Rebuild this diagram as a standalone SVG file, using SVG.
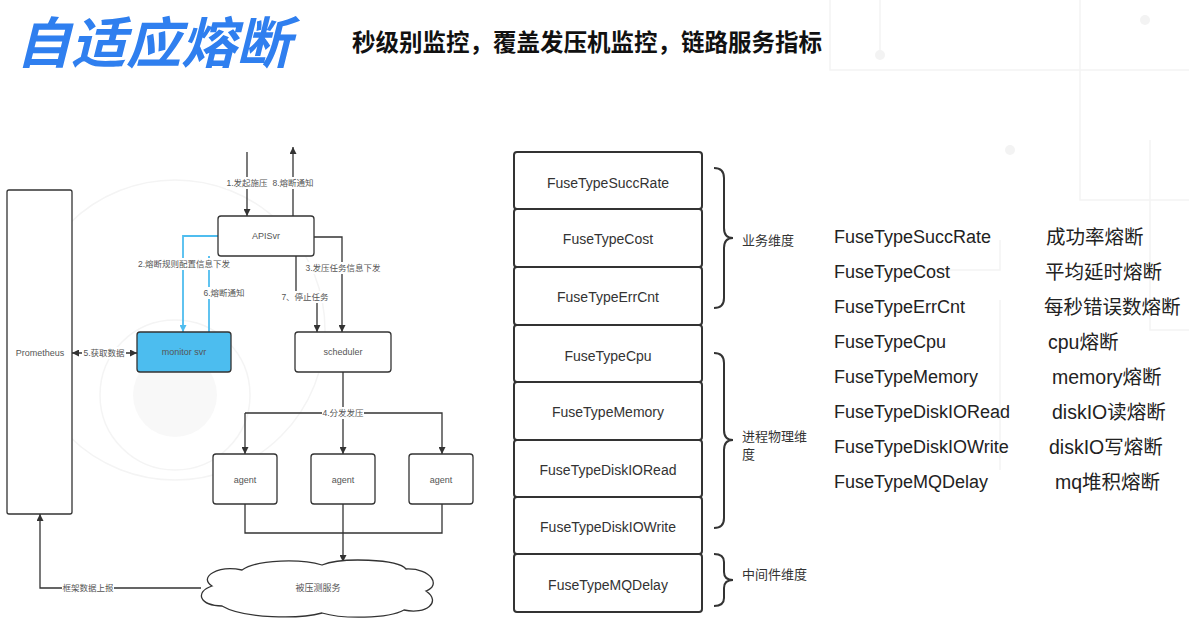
<svg xmlns="http://www.w3.org/2000/svg" width="1189" height="618" viewBox="0 0 1189 618">
<defs>
<marker id="ah" viewBox="0 0 10 10" refX="10" refY="5" markerWidth="7" markerHeight="7" markerUnits="userSpaceOnUse" orient="auto-start-reverse"><path d="M0,0 L10,5 L0,10 z" fill="#333"/></marker>
<marker id="ahb" viewBox="0 0 10 10" refX="10" refY="5" markerWidth="7" markerHeight="7" markerUnits="userSpaceOnUse" orient="auto-start-reverse"><path d="M0,0 L10,5 L0,10 z" fill="#4fbdef"/></marker>
<style>
.bg{fill:none;stroke:#f4f4f4;stroke-width:1.5}
.bgd{fill:#f3f3f3}
.nd{fill:#fff;stroke:#333;stroke-width:1.3}
.nt{font-family:"Liberation Sans","Noto Sans CJK SC",sans-serif;font-size:9px;fill:#555;text-anchor:middle;dominant-baseline:central}
.lb{font-family:"Liberation Sans","Noto Sans CJK SC",sans-serif;font-size:8.5px;fill:#555;text-anchor:middle;dominant-baseline:central}
.ln{fill:none;stroke:#333;stroke-width:1.3}
.lnb{fill:none;stroke:#4fbdef;stroke-width:1.8}
.lbg{fill:#fff}
.st{fill:#fff;stroke:#333;stroke-width:2}
.stt{font-family:"Liberation Sans","Noto Sans CJK SC",sans-serif;font-size:14px;fill:#333;text-anchor:middle;dominant-baseline:central}
.br{fill:none;stroke:#333;stroke-width:2}
.brt{font-family:"Noto Sans CJK SC",sans-serif;font-size:13px;fill:#333;dominant-baseline:central}
.rl{font-family:"Liberation Sans","Noto Sans CJK SC",sans-serif;font-size:18px;fill:#222;dominant-baseline:central}
.rr{font-family:"Liberation Sans","Noto Sans CJK SC",sans-serif;font-size:19.5px;fill:#222;dominant-baseline:central}
</style>
</defs>
<rect width="1189" height="618" fill="#fff"/>
<g id="background">
<circle cx="175" cy="395" r="42" class="bgd" opacity="0.6"/>
<circle cx="175" cy="395" r="75" class="bg"/>
<circle cx="175" cy="330" r="150" class="bg"/>
<path class="bg" d="M830,0 V70 H1189 M880,0 V50 M1080,0 V200 H1189 M870,270 H1000 V240 M1000,300 V470 M1150,140 V330 H1189"/>
<circle cx="880" cy="55" r="5" class="bgd"/>
<circle cx="1010" cy="150" r="5" class="bgd"/>
<circle cx="1145" cy="20" r="5" class="bgd"/>
</g>
<g id="title">
<text x="16" y="63" font-family="Noto Sans CJK SC,sans-serif" font-size="55" font-weight="700" font-style="italic" fill="#2f7fef">自适应熔断</text>
<text x="352" y="51" font-family="Noto Sans CJK SC,sans-serif" font-size="23.5" font-weight="700" fill="#111">秒级别监控，覆盖发压机监控，链路服务指标</text>
</g>
<g id="connectors">
<path class="ln" d="M247,152 V216" marker-end="url(#ah)"/>
<path class="ln" d="M293,216 V147" marker-end="url(#ah)"/>
<path class="lnb" d="M218,236 H183 V332" marker-end="url(#ahb)"/>
<path class="lnb" d="M209,332 V256" marker-end="url(#ahb)"/>
<path class="ln" d="M296,256 V297 H317 V332" marker-end="url(#ah)"/>
<path class="ln" d="M314,237 H342 V332" marker-end="url(#ah)"/>
<path class="ln" d="M72,353 H137" marker-start="url(#ah)" marker-end="url(#ah)"/>
<path class="ln" d="M343,372 V454" marker-end="url(#ah)"/>
<path class="ln" d="M245,413 H442 V454" marker-end="url(#ah)"/>
<path class="ln" d="M245,413 V454" marker-end="url(#ah)"/>
<path class="ln" d="M245,504 V533 H442 V504"/>
<path class="ln" d="M343,504 V562" marker-end="url(#ah)"/>
<path class="ln" d="M201,588 H40 V514" marker-end="url(#ah)"/>
<rect class="lbg" x="226" y="177" width="42" height="12"/>
<rect class="lbg" x="272" y="177" width="42" height="12"/>
<rect class="lbg" x="139" y="258" width="90" height="12"/>
<rect class="lbg" x="203" y="287" width="42" height="12"/>
<rect class="lbg" x="281" y="291" width="48" height="12"/>
<rect class="lbg" x="306" y="262" width="74" height="12"/>
<rect class="lbg" x="82" y="347" width="44" height="12"/>
<rect class="lbg" x="322" y="407" width="42" height="12"/>
<rect class="lbg" x="62" y="582" width="52" height="12"/>
<text class="lb" x="247" y="183">1.发起施压</text>
<text class="lb" x="293" y="183">8.熔断通知</text>
<text class="lb" x="184" y="264">2.熔断规则配置信息下发</text>
<text class="lb" x="224" y="293">6.熔断通知</text>
<text class="lb" x="305" y="297">7、停止任务</text>
<text class="lb" x="343" y="268">3.发压任务信息下发</text>
<text class="lb" x="104" y="353">5.获取数据</text>
<text class="lb" x="343" y="413">4.分发发压</text>
<text class="lb" x="88" y="588">框架数据上报</text>
</g>
<g id="prometheus"><rect class="nd" x="7" y="190" width="65" height="324" rx="2"/><text class="nt" x="40" y="353">Prometheus</text></g>
<g id="apisvr"><rect class="nd" x="218" y="216" width="96" height="40" rx="3"/><text class="nt" x="266" y="236">APISvr</text></g>
<g id="monitor-svr"><rect x="137" y="332" width="94" height="40" rx="3" fill="#4cbdef" stroke="#333" stroke-width="1.3"/><text class="nt" x="184" y="352">monitor svr</text></g>
<g id="scheduler"><rect class="nd" x="295" y="332" width="96" height="40" rx="3"/><text class="nt" x="343" y="352">scheduler</text></g>
<g id="agent1"><rect class="nd" x="213" y="454" width="64" height="50" rx="3"/><text class="nt" x="245" y="480">agent</text></g>
<g id="agent2"><rect class="nd" x="311" y="454" width="64" height="50" rx="3"/><text class="nt" x="343" y="480">agent</text></g>
<g id="agent3"><rect class="nd" x="409" y="454" width="64" height="50" rx="3"/><text class="nt" x="441" y="480">agent</text></g>
<g id="target-service">
<path class="nd" d="M222,606 C200,606 194,592 212,586 C198,577 218,565 242,570 C258,559 302,559 322,565 C342,557 398,559 406,569 C432,568 441,586 426,591 C442,602 426,615 404,610 C388,619 342,619 322,613 C300,619 244,619 222,606 Z"/>
<text class="nt" x="318" y="588">被压测服务</text>
</g>
<g id="stack">
<g id="s1"><rect class="st" x="514" y="152" width="188" height="57" rx="3"/><text class="stt" x="608" y="183">FuseTypeSuccRate</text></g>
<g id="s2"><rect class="st" x="514" y="209" width="188" height="58" rx="3"/><text class="stt" x="608" y="239">FuseTypeCost</text></g>
<g id="s3"><rect class="st" x="514" y="267" width="188" height="58" rx="3"/><text class="stt" x="608" y="297">FuseTypeErrCnt</text></g>
<g id="s4"><rect class="st" x="514" y="325" width="188" height="57" rx="3"/><text class="stt" x="608" y="356">FuseTypeCpu</text></g>
<g id="s5"><rect class="st" x="514" y="382" width="188" height="58" rx="3"/><text class="stt" x="608" y="412">FuseTypeMemory</text></g>
<g id="s6"><rect class="st" x="514" y="440" width="188" height="57" rx="3"/><text class="stt" x="608" y="470">FuseTypeDiskIORead</text></g>
<g id="s7"><rect class="st" x="514" y="497" width="188" height="57" rx="3"/><text class="stt" x="608" y="527">FuseTypeDiskIOWrite</text></g>
<g id="s8"><rect class="st" x="514" y="554" width="188" height="58" rx="3"/><text class="stt" x="608" y="585">FuseTypeMQDelay</text></g>
</g>
<g id="braces">
<path class="br" d="M714,168 Q724,168 724,178 V228 Q724,238 733,238 Q724,238 724,248 V298 Q724,308 714,308"/>
<text class="brt" x="742" y="239">业务维度</text>
<path class="br" d="M714,353 Q724,353 724,363 V430 Q724,440 733,440 Q724,440 724,450 V518 Q724,528 714,528"/>
<text class="brt" x="742" y="435">进程物理维</text>
<text class="brt" x="742" y="453">度</text>
<path class="br" d="M714,554 Q724,554 724,562 V572 Q724,580 733,580 Q724,580 724,588 V598 Q724,606 714,606"/>
<text class="brt" x="742" y="573">中间件维度</text>
</g>
<g id="legend">
<text class="rl" x="834" y="237">FuseTypeSuccRate</text>
<text class="rl" x="834" y="272">FuseTypeCost</text>
<text class="rl" x="834" y="307">FuseTypeErrCnt</text>
<text class="rl" x="834" y="342">FuseTypeCpu</text>
<text class="rl" x="834" y="377">FuseTypeMemory</text>
<text class="rl" x="834" y="412">FuseTypeDiskIORead</text>
<text class="rl" x="834" y="447">FuseTypeDiskIOWrite</text>
<text class="rl" x="834" y="482">FuseTypeMQDelay</text>
<text class="rr" x="1046" y="237">成功率熔断</text>
<text class="rr" x="1045" y="272">平均延时熔断</text>
<text class="rr" x="1044" y="307">每秒错误数熔断</text>
<text class="rr" x="1048" y="342">cpu熔断</text>
<text class="rr" x="1052" y="377">memory熔断</text>
<text class="rr" x="1052" y="412">diskIO读熔断</text>
<text class="rr" x="1049" y="447">diskIO写熔断</text>
<text class="rr" x="1055" y="482">mq堆积熔断</text>
</g>
</svg>
